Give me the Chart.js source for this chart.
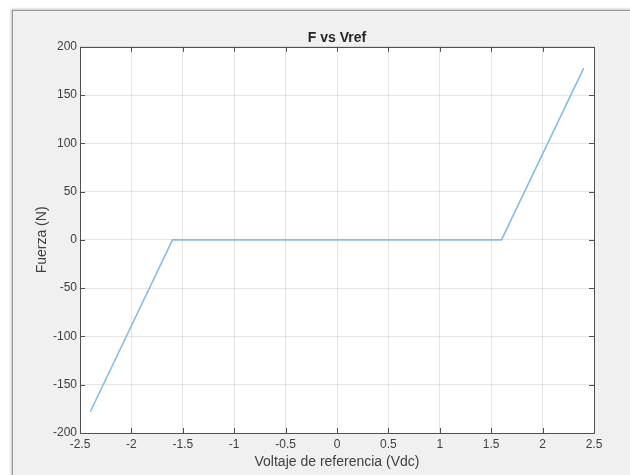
<!DOCTYPE html>
<html>
<head>
<meta charset="utf-8">
<script src="https://cdn.jsdelivr.net/npm/chart.js@4/dist/chart.umd.min.js"></script>
<style>
  html, body { margin: 0; padding: 0; background: #ffffff; }
  #marco {
    position: absolute; left: 12px; top: 10px; width: 630px; height: 475px;
    background: #f0f0f0; border-left: 1px solid #9a9a9a; border-top: 1px solid #9a9a9a;
    box-shadow: -1px -1px 2px rgba(0,0,0,0.25);
  }
  #lienzo { position: absolute; left: 0; top: 0; }
</style>
</head>
<body>
<div id="marco"><canvas id="lienzo" width="617" height="464"></canvas></div>
<script>
// Datos
const voltaje = [-2.4, -1.6, 1.6, 2.4];
const fuerza = [-178, 0, 0, 178];
const ticksX = [-2.5, -2, -1.5, -1, -0.5, 0, 0.5, 1, 1.5, 2, 2.5];
const ticksY = [-200, -150, -100, -50, 0, 50, 100, 150, 200];

const fuente = "'Liberation Sans', Arial, sans-serif";

// Caja y marcas hacia adentro, estilo MATLAB
const cajaMatlab = {
  id: 'cajaMatlab',
  afterLayout(chart) {
    // centrar el título sobre el área de la gráfica
    if (chart.titleBlock) {
      chart.titleBlock.left = chart.chartArea.left;
      chart.titleBlock.right = chart.chartArea.right;
    }
  },
  beforeDraw(chart) {
    const a = chart.chartArea, ctx = chart.ctx;
    ctx.save();
    ctx.fillStyle = '#ffffff';
    ctx.fillRect(a.left, a.top, a.right - a.left, a.bottom - a.top);
    ctx.restore();
  },
  afterDraw(chart) {
    const a = chart.chartArea, ctx = chart.ctx;
    const sx = chart.scales.x, sy = chart.scales.y;
    ctx.save();
    ctx.strokeStyle = '#505050';
    ctx.lineWidth = 1;
    ctx.beginPath();
    ticksX.forEach(v => {
      const px = Math.round(sx.getPixelForValue(v)) + 0.5;
      ctx.moveTo(px, a.bottom); ctx.lineTo(px, a.bottom - 5);
      ctx.moveTo(px, a.top); ctx.lineTo(px, a.top + 5);
    });
    ticksY.forEach(v => {
      const py = Math.round(sy.getPixelForValue(v)) + 0.5;
      ctx.moveTo(a.left, py); ctx.lineTo(a.left + 5, py);
      ctx.moveTo(a.right, py); ctx.lineTo(a.right - 5, py);
    });
    ctx.stroke();
    ctx.strokeRect(Math.round(a.left) + 0.5, Math.round(a.top) + 0.5,
      Math.round(a.right - a.left), Math.round(a.bottom - a.top));
    ctx.restore();
  }
};

new Chart(document.getElementById('lienzo'), {
  type: 'line',
  data: {
    datasets: [{
      data: voltaje.map((v, i) => ({ x: v, y: fuerza[i] })),
      borderColor: '#86bde8',
      borderWidth: 1.6,
      pointRadius: 0,
      tension: 0
    }]
  },
  options: {
    responsive: false,
    animation: false,
    layout: { padding: { top: 0, right: 36, left: 0, bottom: 0 } },
    plugins: {
      legend: { display: false },
      tooltip: { enabled: false },
      title: {
        display: true,
        text: 'F vs Vref',
        color: '#262626',
        font: { family: fuente, size: 14, weight: 'bold' },
        padding: { top: 19, bottom: 0 }
      }
    },
    scales: {
      x: {
        type: 'linear',
        min: -2.5, max: 2.5,
        afterBuildTicks: s => { s.ticks = ticksX.map(v => ({ value: v })); },
        afterFit: s => { s.height = 42; },
        grid: { color: 'rgba(0,0,0,0.1)', drawTicks: false },
        border: { display: false },
        ticks: {
          color: '#404040', font: { family: fuente, size: 12 }, padding: 4, maxRotation: 0,
          callback: v => String(v)
        },
        title: {
          display: true, text: 'Voltaje de referencia (Vdc)', color: '#404040',
          font: { family: fuente, size: 14 }, padding: { top: 0, bottom: 4 }
        }
      },
      y: {
        min: -200, max: 200,
        afterBuildTicks: s => { s.ticks = ticksY.map(v => ({ value: v })); },
        afterFit: s => { s.width = 67; },
        grid: { color: 'rgba(0,0,0,0.1)', drawTicks: false },
        border: { display: false },
        ticks: {
          color: '#404040', font: { family: fuente, size: 12 }, padding: 3,
          callback: v => String(v)
        },
        title: {
          display: true, text: 'Fuerza (N)', color: '#404040',
          font: { family: fuente, size: 14 }, padding: { top: 21, bottom: 0 }
        }
      }
    }
  },
  plugins: [cajaMatlab]
});
</script>
</body>
</html>
